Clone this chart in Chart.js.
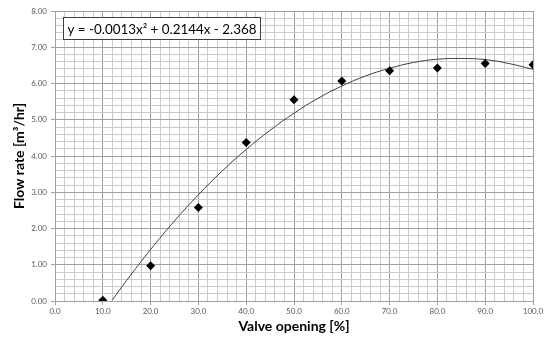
<!DOCTYPE html>
<html>
<head>
<meta charset="utf-8">
<script src="https://cdn.jsdelivr.net/npm/chart.js@4/dist/chart.umd.min.js"></script>
<style>
  html, body { margin: 0; padding: 0; background: #fff; }
  #chart { display: block; }
</style>
</head>
<body>
<canvas id="chart" width="548" height="337"></canvas>
<script>
// measured points
const valveOpening = [10, 20, 30, 40, 50, 60, 70, 80, 90, 100];
const flowRate = [0.02, 0.97, 2.58, 4.37, 5.55, 6.07, 6.35, 6.43, 6.55, 6.52];

// polynomial trendline
const trendX = [12, 15, 20, 25, 30, 35, 40, 45, 50, 55, 60, 65, 70, 75, 80, 85, 90, 95, 100];
const trendY = [0.03, 0.57, 1.42, 2.21, 2.93, 3.59, 4.18, 4.71, 5.18, 5.59, 5.93, 6.21, 6.42, 6.58, 6.67, 6.69, 6.66, 6.55, 6.39];

const equationText = "y = -0.0013x\u00B2 + 0.2144x - 2.368";
const xTitle = "Valve opening [%]";
const yTitle = "Flow rate [m\u00B3/hr]";

const FONT = "Lato, 'Open Sans', 'DejaVu Sans', sans-serif";
const majorGrid = "#a0a0a0";
const minorGrid = "#cbcbcb";

const near = (v, step) => Math.abs(v / step - Math.round(v / step)) < 1e-6;

const equationBox = {
  id: "equationBox",
  afterDatasetsDraw(chart) {
    const { ctx, chartArea } = chart;
    ctx.save();
    ctx.font = "13.4px " + FONT;
    const w = ctx.measureText(equationText).width + 8;
    const x = chartArea.left + 8.5, y = chartArea.top + 6.5, h = 22;
    ctx.fillStyle = "#fff";
    ctx.fillRect(x, y, w, h);
    ctx.strokeStyle = "#404040";
    ctx.lineWidth = 1;
    ctx.strokeRect(x, y, w, h);
    ctx.fillStyle = "#000";
    ctx.textBaseline = "middle";
    ctx.fillText(equationText, x + 4, y + h / 2 + 1);
    ctx.restore();
  }
};

new Chart(document.getElementById("chart"), {
  type: "scatter",
  data: {
    datasets: [
      {
        label: "trend",
        type: "line",
        data: trendX.map((x, i) => ({ x: x, y: trendY[i] })),
        borderColor: "#404040",
        borderWidth: 1,
        pointRadius: 0,
        tension: 0.4,
        fill: false,
        order: 2
      },
      {
        label: "measured",
        data: valveOpening.map((x, i) => ({ x: x, y: flowRate[i] })),
        pointStyle: "rectRot",
        pointRadius: 4.5,
        backgroundColor: "#000",
        borderColor: "#000",
        borderWidth: 0,
        order: 1
      }
    ]
  },
  options: {
    responsive: false,
    animation: false,
    layout: { padding: { left: 0, right: 15, top: 11, bottom: 0 } },
    plugins: { legend: { display: false }, tooltip: { enabled: false } },
    scales: {
      x: {
        type: "linear",
        min: 0,
        max: 100,
        afterFit(scale) { scale.height = 36; },
        afterBuildTicks(scale) {
          const t = [];
          for (let v = 0; v <= 100; v += 2) t.push({ value: v });
          scale.ticks = t;
        },
        ticks: {
          autoSkip: false,
          maxRotation: 0,
          padding: 2,
          color: "#595959",
          font: { family: FONT, size: 8 },
          callback: (v) => near(v, 10) ? v.toFixed(1) : ""
        },
        grid: {
          color: (c) => near(c.tick.value, 10) ? majorGrid : minorGrid,
          tickLength: 4,
          tickColor: (c) => near(c.tick.value, 10) ? majorGrid : "rgba(0,0,0,0)"
        },
        border: { color: majorGrid },
        title: {
          display: true,
          text: xTitle,
          color: "#000",
          font: { family: FONT, size: 14, weight: "bold" },
          padding: { top: 0, bottom: 2 }
        }
      },
      y: {
        type: "linear",
        min: 0,
        max: 8,
        afterFit(scale) { scale.width = 55; },
        afterBuildTicks(scale) {
          const t = [];
          for (let i = 0; i <= 40; i++) t.push({ value: i / 5 });
          scale.ticks = t;
        },
        ticks: {
          autoSkip: false,
          padding: 4,
          color: "#595959",
          font: { family: FONT, size: 8 },
          callback: (v) => near(v, 1) ? v.toFixed(2) : ""
        },
        grid: {
          color: (c) => near(c.tick.value, 1) ? majorGrid : minorGrid,
          tickLength: 4,
          tickColor: (c) => near(c.tick.value, 1) ? majorGrid : "rgba(0,0,0,0)"
        },
        border: { color: majorGrid },
        title: {
          display: true,
          text: yTitle,
          color: "#000",
          font: { family: FONT, size: 14, weight: "bold" },
          padding: { top: 11, bottom: 0 }
        }
      }
    }
  },
  plugins: [equationBox]
});
</script>
</body>
</html>
